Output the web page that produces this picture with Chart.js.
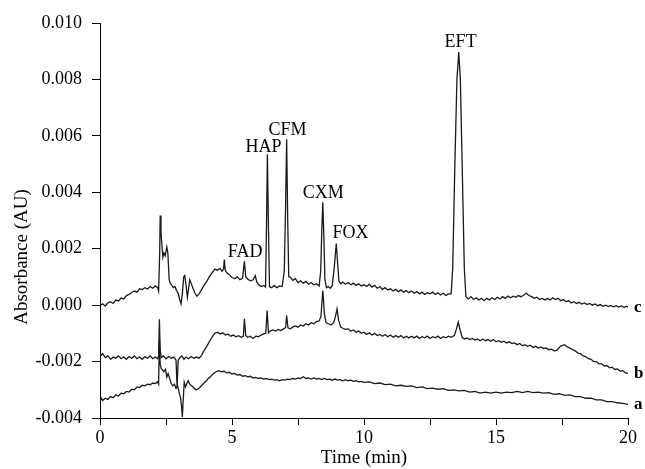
<!DOCTYPE html>
<html>
<head>
<meta charset="utf-8">
<script src="https://cdn.jsdelivr.net/npm/chart.js@4/dist/chart.umd.min.js"></script>
<style>
html,body{margin:0;padding:0;background:#fff;}
#wrap{width:645px;height:469px;position:relative;}
</style>
</head>
<body>
<div id="wrap"><canvas id="c" width="645" height="469"></canvas></div>
<script>
// ---- data (time in min, absorbance in AU) ----
const cTime = [0.00,0.10,0.20,0.30,0.40,0.50,0.60,0.70,0.80,0.90,1.00,1.10,1.20,1.30,1.40,1.50,1.60,1.70,1.80,1.90,2.00,2.10,2.18,2.22,2.26,2.28,2.31,2.34,2.38,2.42,2.47,2.53,2.57,2.62,2.66,2.72,2.78,2.84,2.90,2.96,3.02,3.07,3.12,3.17,3.21,3.26,3.31,3.35,3.40,3.45,3.52,3.60,3.67,3.75,3.85,3.95,4.05,4.15,4.25,4.35,4.45,4.55,4.62,4.68,4.71,4.74,4.80,4.90,5.00,5.10,5.20,5.30,5.40,5.47,5.52,5.60,5.70,5.80,5.88,5.94,6.00,6.10,6.20,6.27,6.31,6.34,6.38,6.42,6.50,6.60,6.70,6.80,6.90,6.98,7.03,7.07,7.11,7.15,7.21,7.30,7.40,7.50,7.60,7.70,7.80,7.90,8.00,8.10,8.20,8.30,8.36,8.40,8.44,8.48,8.52,8.58,8.65,8.72,8.80,8.88,8.95,9.00,9.05,9.12,9.20,9.30,9.40,9.50,9.60,9.70,9.80,9.90,10.0,10.1,10.2,10.3,10.4,10.5,10.6,10.7,10.8,10.9,11.0,11.1,11.2,11.3,11.4,11.5,11.6,11.7,11.8,11.9,12.0,12.1,12.2,12.3,12.4,12.5,12.6,12.7,12.8,12.9,13.0,13.1,13.2,13.30,13.36,13.44,13.52,13.59,13.65,13.72,13.80,13.86,13.95,14.05,14.15,14.25,14.35,14.45,14.55,14.65,14.75,14.85,14.95,15.05,15.15,15.25,15.35,15.45,15.55,15.65,15.75,15.85,15.95,16.05,16.15,16.25,16.35,16.45,16.55,16.65,16.75,16.85,16.95,17.05,17.15,17.25,17.35,17.45,17.55,17.65,17.75,17.85,17.95,18.05,18.15,18.25,18.35,18.45,18.55,18.65,18.75,18.85,18.95,19.05,19.15,19.25,19.35,19.45,19.55,19.65,19.75,19.85,19.95,20.0];
const cAbs = [-0.00002,0.00005,-0.00003,0.00008,0.00012,0.00006,0.00018,0.00015,0.00025,0.00022,0.00034,0.00038,0.00045,0.00050,0.00046,0.00058,0.00055,0.00062,0.00057,0.00066,0.00060,0.00068,0.00062,0.00050,0.00180,0.00318,0.00260,0.00220,0.00170,0.00185,0.00175,0.00206,0.00185,0.00090,0.00078,0.00070,0.00062,0.00066,0.00052,0.00042,0.00020,0.00005,0.00040,0.00100,0.00105,0.00070,0.00028,0.00055,0.00090,0.00078,0.00060,0.00042,0.00032,0.00040,0.00055,0.00072,0.00085,0.00102,0.00115,0.00128,0.00124,0.00130,0.00120,0.00128,0.00162,0.00125,0.00115,0.00108,0.00098,0.00094,0.00100,0.00090,0.00096,0.00155,0.00100,0.00092,0.00086,0.00090,0.00105,0.00082,0.00074,0.00066,0.00070,0.00064,0.00300,0.00535,0.00280,0.00065,0.00062,0.00070,0.00062,0.00068,0.00066,0.00120,0.00350,0.00588,0.00300,0.00100,0.00099,0.00088,0.00094,0.00080,0.00086,0.00078,0.00084,0.00074,0.00080,0.00072,0.00076,0.00068,0.00120,0.00260,0.00365,0.00240,0.00090,0.00062,0.00066,0.00060,0.00070,0.00140,0.00218,0.00150,0.00085,0.00076,0.00082,0.00074,0.00080,0.00072,0.00078,0.00070,0.00076,0.00068,0.00072,0.00066,0.00074,0.00064,0.00070,0.00060,0.00066,0.00056,0.00062,0.00054,0.00058,0.00050,0.00056,0.00048,0.00054,0.00046,0.00052,0.00044,0.00050,0.00042,0.00048,0.00040,0.00046,0.00038,0.00044,0.00040,0.00046,0.00038,0.00044,0.00036,0.00042,0.00034,0.00040,0.00040,0.00130,0.00490,0.00800,0.00897,0.00800,0.00490,0.00130,0.00030,0.00022,0.00030,0.00020,0.00026,0.00018,0.00024,0.00016,0.00024,0.00018,0.00026,0.00020,0.00028,0.00022,0.00030,0.00024,0.00032,0.00026,0.00032,0.00028,0.00034,0.00030,0.00036,0.00042,0.00034,0.00030,0.00024,0.00028,0.00020,0.00024,0.00018,0.00024,0.00018,0.00026,0.00020,0.00024,0.00016,0.00020,0.00012,0.00016,0.00008,0.00012,0.00006,0.00010,0.00004,0.00008,0.00002,0.00006,0.00000,0.00004,-0.00002,0.00002,-0.00004,0.00000,-0.00005,-0.00001,-0.00006,-0.00002,-0.00007,-0.00003,-0.00008,-0.00004,-0.00007];

const bTime = [0.00,0.05,0.10,0.20,0.30,0.40,0.50,0.60,0.70,0.80,0.90,1.00,1.10,1.20,1.30,1.40,1.50,1.60,1.70,1.80,1.90,2.00,2.10,2.18,2.22,2.25,2.28,2.32,2.40,2.50,2.60,2.70,2.80,2.88,2.92,2.96,3.02,3.10,3.18,3.25,3.35,3.45,3.55,3.65,3.75,3.85,3.95,4.05,4.15,4.25,4.35,4.45,4.55,4.65,4.75,4.85,4.95,5.05,5.15,5.25,5.35,5.43,5.47,5.52,5.60,5.70,5.80,5.90,6.00,6.10,6.20,6.28,6.33,6.38,6.45,6.55,6.65,6.75,6.85,6.95,7.03,7.07,7.12,7.21,7.30,7.40,7.50,7.60,7.70,7.80,7.90,8.00,8.10,8.20,8.30,8.37,8.44,8.50,8.56,8.65,8.75,8.85,8.92,8.98,9.04,9.12,9.20,9.30,9.40,9.50,9.60,9.70,9.80,9.90,10.0,10.1,10.2,10.3,10.4,10.5,10.6,10.7,10.8,10.9,11.0,11.1,11.2,11.3,11.4,11.5,11.6,11.7,11.8,11.9,12.0,12.1,12.2,12.3,12.4,12.5,12.6,12.7,12.8,12.9,13.0,13.1,13.2,13.3,13.42,13.50,13.57,13.64,13.72,13.80,13.90,14.0,14.1,14.2,14.3,14.4,14.5,14.6,14.7,14.8,14.9,15.0,15.1,15.2,15.3,15.4,15.5,15.6,15.7,15.8,15.9,16.0,16.1,16.2,16.3,16.4,16.5,16.6,16.7,16.8,16.9,17.0,17.1,17.2,17.3,17.45,17.6,17.7,17.8,17.9,18.0,18.1,18.2,18.3,18.4,18.5,18.6,18.7,18.8,18.9,19.0,19.1,19.2,19.3,19.4,19.5,19.6,19.7,19.8,19.9,20.0];
const bAbs = [-0.00170,-0.00178,-0.00172,-0.00186,-0.00180,-0.00192,-0.00184,-0.00188,-0.00180,-0.00190,-0.00184,-0.00192,-0.00182,-0.00188,-0.00180,-0.00190,-0.00184,-0.00192,-0.00182,-0.00188,-0.00180,-0.00190,-0.00184,-0.00190,-0.00180,-0.00050,-0.00160,-0.00186,-0.00180,-0.00190,-0.00182,-0.00188,-0.00184,-0.00195,-0.00290,-0.00195,-0.00186,-0.00180,-0.00192,-0.00184,-0.00190,-0.00182,-0.00188,-0.00184,-0.00188,-0.00178,-0.00160,-0.00145,-0.00128,-0.00112,-0.00100,-0.00096,-0.00102,-0.00098,-0.00106,-0.00102,-0.00110,-0.00106,-0.00112,-0.00108,-0.00114,-0.00110,-0.00048,-0.00108,-0.00114,-0.00110,-0.00118,-0.00110,-0.00112,-0.00106,-0.00102,-0.00100,-0.00019,-0.00098,-0.00092,-0.00088,-0.00092,-0.00086,-0.00090,-0.00084,-0.00080,-0.00037,-0.00080,-0.00084,-0.00078,-0.00074,-0.00078,-0.00070,-0.00074,-0.00066,-0.00070,-0.00062,-0.00066,-0.00058,-0.00056,-0.00040,0.00052,-0.00030,-0.00062,-0.00066,-0.00070,-0.00062,-0.00040,-0.00013,-0.00055,-0.00078,-0.00082,-0.00086,-0.00084,-0.00092,-0.00088,-0.00096,-0.00092,-0.00100,-0.00096,-0.00104,-0.00098,-0.00106,-0.00100,-0.00108,-0.00104,-0.00110,-0.00104,-0.00112,-0.00106,-0.00114,-0.00108,-0.00114,-0.00108,-0.00116,-0.00110,-0.00116,-0.00110,-0.00116,-0.00110,-0.00118,-0.00112,-0.00116,-0.00110,-0.00118,-0.00112,-0.00116,-0.00110,-0.00118,-0.00112,-0.00116,-0.00110,-0.00114,-0.00108,-0.00085,-0.00060,-0.00088,-0.00114,-0.00120,-0.00116,-0.00122,-0.00118,-0.00124,-0.00120,-0.00126,-0.00120,-0.00126,-0.00122,-0.00128,-0.00122,-0.00130,-0.00126,-0.00132,-0.00128,-0.00134,-0.00130,-0.00136,-0.00134,-0.00140,-0.00136,-0.00144,-0.00140,-0.00146,-0.00142,-0.00150,-0.00146,-0.00152,-0.00148,-0.00154,-0.00152,-0.00158,-0.00156,-0.00162,-0.00160,-0.00145,-0.00140,-0.00148,-0.00152,-0.00158,-0.00162,-0.00170,-0.00172,-0.00180,-0.00182,-0.00190,-0.00192,-0.00200,-0.00200,-0.00208,-0.00208,-0.00216,-0.00214,-0.00222,-0.00220,-0.00228,-0.00226,-0.00234,-0.00232,-0.00240,-0.00242];

const aTime = [0.00,0.05,0.10,0.20,0.30,0.40,0.50,0.60,0.70,0.80,0.90,1.00,1.10,1.20,1.30,1.40,1.50,1.60,1.70,1.80,1.90,2.00,2.10,2.18,2.22,2.25,2.28,2.32,2.37,2.42,2.48,2.53,2.58,2.64,2.70,2.76,2.82,2.88,2.94,3.00,3.05,3.09,3.12,3.15,3.19,3.24,3.29,3.34,3.40,3.47,3.54,3.62,3.70,3.78,3.86,3.94,4.02,4.10,4.20,4.30,4.40,4.50,4.60,4.70,4.80,4.90,5.00,5.10,5.20,5.30,5.40,5.50,5.60,5.70,5.80,5.90,6.00,6.10,6.20,6.30,6.40,6.50,6.60,6.70,6.80,6.90,7.00,7.10,7.20,7.30,7.40,7.50,7.60,7.70,7.80,7.90,8.00,8.10,8.20,8.30,8.40,8.50,8.60,8.70,8.80,8.90,9.00,9.10,9.20,9.30,9.40,9.50,9.60,9.70,9.80,9.90,10.0,10.2,10.4,10.6,10.8,11.0,11.2,11.4,11.6,11.8,12.0,12.2,12.4,12.6,12.8,13.0,13.2,13.4,13.6,13.8,14.0,14.2,14.4,14.6,14.8,15.0,15.2,15.4,15.6,15.8,16.0,16.2,16.4,16.6,16.8,17.0,17.2,17.4,17.6,17.8,18.0,18.2,18.4,18.6,18.8,19.0,19.2,19.4,19.6,19.8,20.0];
const aAbs = [-0.00340,-0.00330,-0.00338,-0.00330,-0.00334,-0.00324,-0.00328,-0.00318,-0.00322,-0.00312,-0.00314,-0.00306,-0.00308,-0.00298,-0.00300,-0.00290,-0.00292,-0.00284,-0.00286,-0.00280,-0.00282,-0.00276,-0.00278,-0.00272,-0.00280,-0.00120,-0.00210,-0.00225,-0.00230,-0.00236,-0.00228,-0.00255,-0.00242,-0.00260,-0.00278,-0.00286,-0.00280,-0.00295,-0.00286,-0.00310,-0.00328,-0.00360,-0.00396,-0.00340,-0.00273,-0.00290,-0.00278,-0.00268,-0.00280,-0.00286,-0.00292,-0.00300,-0.00298,-0.00292,-0.00284,-0.00276,-0.00270,-0.00260,-0.00252,-0.00242,-0.00236,-0.00232,-0.00236,-0.00234,-0.00240,-0.00238,-0.00244,-0.00242,-0.00248,-0.00246,-0.00252,-0.00250,-0.00254,-0.00252,-0.00258,-0.00256,-0.00260,-0.00258,-0.00262,-0.00260,-0.00264,-0.00262,-0.00266,-0.00264,-0.00268,-0.00264,-0.00266,-0.00262,-0.00264,-0.00260,-0.00262,-0.00258,-0.00260,-0.00254,-0.00260,-0.00258,-0.00262,-0.00258,-0.00262,-0.00260,-0.00264,-0.00260,-0.00264,-0.00262,-0.00266,-0.00262,-0.00266,-0.00264,-0.00268,-0.00264,-0.00268,-0.00266,-0.00270,-0.00268,-0.00272,-0.00270,-0.00274,-0.00272,-0.00278,-0.00276,-0.00282,-0.00280,-0.00286,-0.00284,-0.00288,-0.00286,-0.00292,-0.00290,-0.00296,-0.00294,-0.00298,-0.00296,-0.00302,-0.00300,-0.00304,-0.00302,-0.00308,-0.00306,-0.00312,-0.00308,-0.00312,-0.00308,-0.00312,-0.00308,-0.00310,-0.00306,-0.00310,-0.00306,-0.00310,-0.00308,-0.00312,-0.00310,-0.00316,-0.00314,-0.00320,-0.00318,-0.00324,-0.00324,-0.00330,-0.00330,-0.00336,-0.00336,-0.00342,-0.00342,-0.00346,-0.00348,-0.00352];

// trace names at right end
const traceNames = ['c','b','a'];
// peak labels: name, label anchor time, label anchor absorbance
const peakNames = ['FAD','HAP','CFM','CXM','FOX','EFT'];
const peakLabelTime = [5.50,6.19,7.10,8.46,9.49,13.66];
const peakLabelAbs = [0.00187,0.00559,0.00620,0.00396,0.00254,0.00932];

// ticks
const xMin = 0, xMax = 20, xStep = 2.5, xLabelEvery = 5;
const yMin = -0.004, yMax = 0.010, yStep = 0.002;

const toPts = (t, v) => t.map((x, i) => ({x: x, y: v[i]}));

const SERIF = "'Times New Roman', 'Liberation Serif', serif";
const TXT = 18;

const labelPlugin = {
  id: 'labels',
  afterDatasetsDraw(chart) {
    const ctx = chart.ctx;
    const xs = chart.scales.x, ys = chart.scales.y;
    ctx.save();
    ctx.fillStyle = '#000';
    ctx.font = TXT + 'px ' + SERIF;
    ctx.textAlign = 'center';
    ctx.textBaseline = 'middle';
    peakNames.forEach((n, i) => {
      ctx.fillText(n, xs.getPixelForValue(peakLabelTime[i]), ys.getPixelForValue(peakLabelAbs[i]));
    });
    ctx.font = 'bold 17px ' + SERIF;
    ctx.textAlign = 'left';
    chart.data.datasets.forEach((ds, i) => {
      const last = ds.data[ds.data.length - 1];
      ctx.fillText(traceNames[i], xs.right + 6, ys.getPixelForValue(last.y));
    });
    ctx.font = '19px ' + SERIF;
    ctx.textAlign = 'center';
    ctx.translate(22, 257);
    ctx.rotate(-Math.PI / 2);
    ctx.fillText('Absorbance (AU)', 0, 0);
    ctx.restore();
  }
};

const lineStyle = {borderColor: '#1a1a1a', borderWidth: 1.3, pointRadius: 0, tension: 0, fill: false};

function draw() {
  new Chart(document.getElementById('c'), {
    type: 'line',
    data: {
      datasets: [
        Object.assign({label: 'c', data: toPts(cTime, cAbs)}, lineStyle),
        Object.assign({label: 'b', data: toPts(bTime, bAbs)}, lineStyle),
        Object.assign({label: 'a', data: toPts(aTime, aAbs)}, lineStyle)
      ]
    },
    options: {
      responsive: false,
      animation: false,
      layout: {padding: {left: 0, right: 17, top: 23, bottom: 0}},
      plugins: {legend: {display: false}, tooltip: {enabled: false}},
      scales: {
        x: {
          type: 'linear', min: xMin, max: xMax,
          afterFit(s) { s.height = 51; },
          border: {display: true, color: '#000', width: 1},
          grid: {drawOnChartArea: false, drawTicks: true, tickLength: 7, tickColor: '#000', tickWidth: 1},
          ticks: {
            stepSize: xStep, autoSkip: false, maxRotation: 0, color: '#000', padding: 2,
            font: {family: SERIF, size: TXT},
            callback: v => (v % xLabelEvery === 0 ? String(v) : '')
          },
          title: {display: true, text: 'Time (min)', color: '#000', font: {family: SERIF, size: 19}, padding: {top: -3, bottom: 0}}
        },
        y: {
          type: 'linear', min: yMin, max: yMax,
          afterFit(s) { s.width = 100; },
          border: {display: true, color: '#000', width: 1},
          grid: {drawOnChartArea: false, drawTicks: true, tickLength: 8, tickColor: '#000', tickWidth: 1},
          ticks: {
            stepSize: yStep, color: '#000', padding: 10,
            font: {family: SERIF, size: TXT},
            callback: v => (Math.round(v * 1000) / 1000).toFixed(3)
          }
        }
      }
    },
    plugins: [labelPlugin]
  });
}

const fontLoads = document.fonts ? Promise.all([
  document.fonts.load("18px 'Liberation Serif'"),
  document.fonts.load("19px 'Liberation Serif'"),
  document.fonts.load("bold 17px 'Liberation Serif'")
]) : Promise.resolve();
let drawn = false;
const go = () => { if (!drawn) { drawn = true; draw(); } };
fontLoads.then(go, go);
setTimeout(go, 1500);
</script>
</body>
</html>
